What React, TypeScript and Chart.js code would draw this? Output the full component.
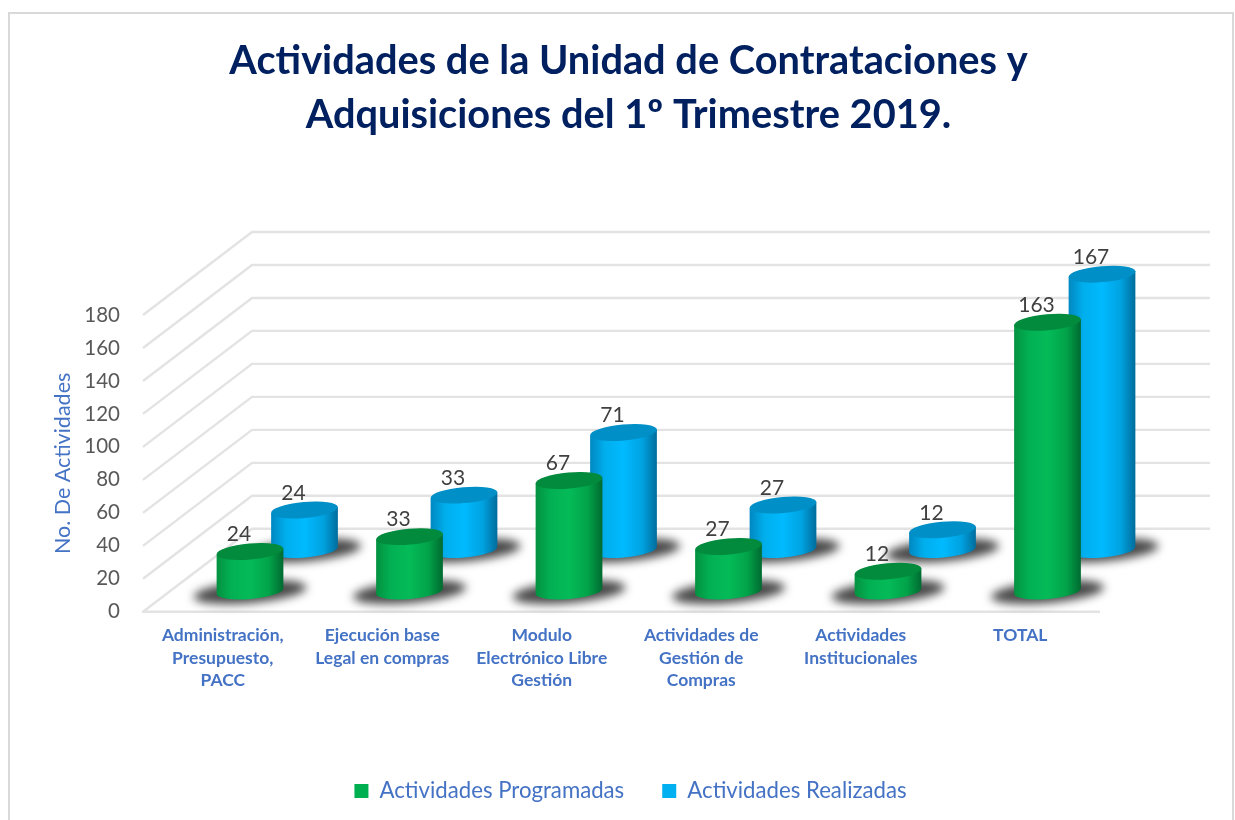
import React, { useEffect, useRef } from "react";
import { Chart, registerables, BarController, BarElement } from "chart.js";

const titleLines = ["Actividades de la Unidad de Contrataciones y", "Adquisiciones del 1º Trimestre 2019."];
const categories = [
  ["Administración,", "Presupuesto,", "PACC"],
  ["Ejecución base", "Legal en compras"],
  ["Modulo", "Electrónico Libre", "Gestión"],
  ["Actividades de", "Gestión de", "Compras"],
  ["Actividades", "Institucionales"],
  ["TOTAL"],
];
const programadas = [24, 33, 67, 27, 12, 163];
const realizadas = [24, 33, 71, 27, 12, 167];
const seriesNames = ["Actividades Programadas", "Actividades Realizadas"];
const yAxisTitle = "No. De Actividades";

const FONT = "Lato";
const DEPTH_X = 109;
const DEPTH_Y = 83;
const BACK_RIGHT_EXTRA = 110;
const SERIES_DEPTH = [0.25, 0.75];
const SERIES_COLOR = ["#00B050", "#00B0F0"];
const SERIES_BODY = [
  ["#04913f", "#02b053", "#04bb58", "#02a349", "#006a30"],
  ["#0087c0", "#00aeec", "#00baff", "#00a2e0", "#006c9c"],
];
const SERIES_TOP = ["#028a3d", "#008fc6"];
const RY = 8;
const TILT = (-5 * Math.PI) / 180;

class CylinderElement extends (BarElement as any) {
  static id = "cylinder";
  draw(ctx: CanvasRenderingContext2D) {
    const self: any = this;
    const i = Math.max(0, SERIES_COLOR.indexOf(self.options.backgroundColor));
    const d = SERIES_DEPTH[i];
    const cx = self.x + d * DEPTH_X;
    const rx = self.width / 2;
    const by = self.base - d * DEPTH_Y;
    const ty = self.y - d * DEPTH_Y;
    const ex = rx * Math.cos(TILT);
    const ey = rx * Math.sin(TILT);
    ctx.save();
    // shadow on the floor
    ctx.save();
    ctx.filter = "blur(5px)";
    ctx.fillStyle = "rgba(40,40,40,0.85)";
    ctx.beginPath();
    ctx.ellipse(cx, by + 1, rx + 23, 11, TILT, 0, Math.PI * 2);
    ctx.fill();
    ctx.restore();
    // body
    const g = ctx.createLinearGradient(cx - rx, 0, cx + rx, 0);
    const stops = [0, 0.22, 0.5, 0.78, 1];
    SERIES_BODY[i].forEach((c, k) => g.addColorStop(stops[k], c));
    ctx.fillStyle = g;
    ctx.beginPath();
    ctx.ellipse(cx, by, rx, RY, TILT, 0, Math.PI);
    ctx.lineTo(cx - ex, ty - ey);
    ctx.lineTo(cx + ex, ty + ey);
    ctx.closePath();
    ctx.fill();
    // top cap
    ctx.fillStyle = SERIES_TOP[i];
    ctx.beginPath();
    ctx.ellipse(cx, ty, rx, RY, TILT, 0, Math.PI * 2);
    ctx.fill();
    ctx.restore();
  }
}

class CylinderController extends (BarController as any) {
  static id = "cylinderBar";
  static defaults = { ...(BarController as any).defaults, dataElementType: "cylinder" };
  static overrides = (BarController as any).overrides;
}

Chart.register(...registerables, CylinderElement as any, CylinderController as any);

const wallsPlugin = {
  id: "walls",
  beforeDraw(chart: any) {
    const ctx = chart.ctx;
    ctx.save();
    ctx.fillStyle = "#ffffff";
    ctx.fillRect(0, 0, chart.width, chart.height);
    ctx.strokeStyle = "#d9d9d9";
    ctx.lineWidth = 2;
    ctx.strokeRect(9, 13, 1224, 900);
    ctx.restore();
  },
  beforeDatasetsDraw(chart: any) {
    const ctx = chart.ctx;
    const { left, right } = chart.chartArea;
    const yScale = chart.scales.y;
    ctx.save();
    ctx.strokeStyle = "#e3e3e3";
    ctx.lineWidth = 2.4;
    ctx.lineJoin = "round";
    yScale.ticks.forEach((t: any) => {
      const y = yScale.getPixelForValue(t.value);
      ctx.beginPath();
      if (t.value === 0) {
        ctx.moveTo(right, y);
        ctx.lineTo(left, y);
      } else {
        ctx.moveTo(left, y);
      }
      ctx.lineTo(left + DEPTH_X, y - DEPTH_Y);
      ctx.lineTo(right + BACK_RIGHT_EXTRA, y - DEPTH_Y);
      ctx.stroke();
    });
    ctx.restore();
  },
  afterDatasetsDraw(chart: any) {
    const ctx = chart.ctx;
    ctx.save();
    ctx.font = `21px ${FONT}`;
    ctx.fillStyle = "#404040";
    ctx.textAlign = "center";
    ctx.textBaseline = "middle";
    chart.data.datasets.forEach((ds: any, i: number) => {
      chart.getDatasetMeta(i).data.forEach((el: any, j: number) => {
        const d = SERIES_DEPTH[i];
        ctx.fillText(String(ds.data[j]), el.x + d * DEPTH_X - 11, el.y - d * DEPTH_Y - 17);
      });
    });
    ctx.restore();
  },
  afterLayout(chart: any) {
    if (chart.titleBlock) {
      chart.titleBlock.left = 22;
      chart.titleBlock.right = 1235;
    }
    if (chart.legend) {
      chart.legend.left = 26;
      chart.legend.right = 1235;
      chart.legend.adjustHitBoxes && chart.legend.adjustHitBoxes();
    }
  },
};

export default function App() {
  const ref = useRef<HTMLCanvasElement>(null);
  useEffect(() => {
    document.body.style.margin = "0";
    const chart = new Chart(ref.current as any, {
      type: "cylinderBar" as any,
      data: {
        labels: categories as any,
        datasets: [
          { label: seriesNames[0], data: programadas, backgroundColor: SERIES_COLOR[0], clip: false } as any,
          { label: seriesNames[1], data: realizadas, backgroundColor: SERIES_COLOR[1], clip: false } as any,
        ],
      },
      options: {
        responsive: false,
        animation: false,
        layout: { padding: { left: 50, right: 135, top: 34.5, bottom: 8 } },
        datasets: { cylinderBar: { grouped: false, categoryPercentage: 0.42, barPercentage: 1 } } as any,
        plugins: {
          tooltip: { enabled: false },
          title: {
            display: true,
            text: titleLines,
            color: "#002060",
            font: { family: FONT, size: 39.75, weight: "bold", lineHeight: 1.358 },
            padding: { top: 0, bottom: 172.5 },
          },
          legend: {
            position: "bottom",
            labels: {
              color: "#4472C4",
              font: { family: FONT, size: 22.2 },
              boxWidth: 14,
              boxHeight: 14,
              padding: 38,
            },
          },
        },
        scales: {
          x: {
            type: "category",
            grid: { display: false },
            border: { display: false },
            afterFit: (s: any) => { s.height = 130; },
            ticks: {
              autoSkip: false,
              maxRotation: 0,
              minRotation: 0,
              padding: 4.5,
              color: "#4472C4",
              font: { family: FONT, size: 17.5, weight: "bold", lineHeight: 1.286 },
            },
          },
          y: {
            type: "linear",
            min: 0,
            max: 180,
            grid: { display: false, drawTicks: false },
            border: { display: false },
            afterFit: (s: any) => { s.width = 93; },
            title: {
              display: true,
              text: yAxisTitle,
              color: "#4472C4",
              font: { family: FONT, size: 21.5 },
              padding: { top: 0, bottom: 0 },
            },
            ticks: {
              stepSize: 20,
              padding: 23,
              color: "#595959",
              font: { family: FONT, size: 20.5 },
            },
          },
        },
      } as any,
      plugins: [wallsPlugin as any],
    });
    return () => chart.destroy();
  }, []);
  return (
    <canvas
      ref={ref}
      width={1235}
      height={820}
      style={{ position: "absolute", left: 0, top: 0, display: "block" }}
    />
  );
}
